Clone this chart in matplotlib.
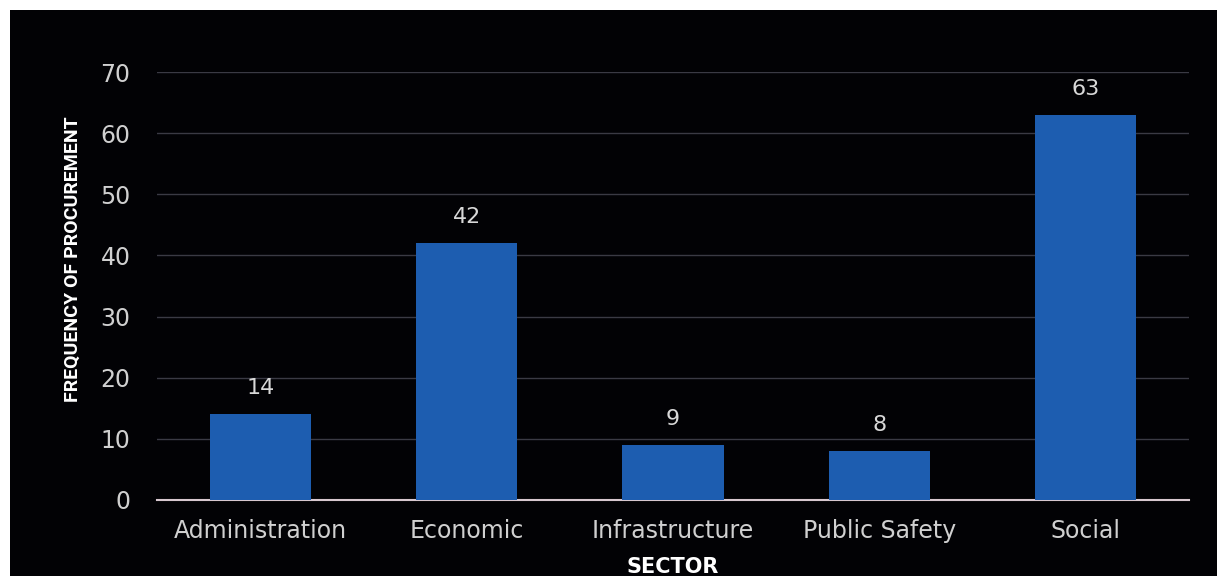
import matplotlib.pyplot as plt
from matplotlib.patches import Rectangle

sectors = ["Administration", "Economic", "Infrastructure", "Public Safety", "Social"]
counts = [14, 42, 9, 8, 63]
yticks = [0, 10, 20, 30, 40, 50, 60, 70]

plt.rcParams['font.family'] = ['DejaVu Sans']

fig = plt.figure(figsize=(12.17, 5.76), dpi=100, facecolor="#020205")
# thin white margin at top and left of the slide
fig.add_artist(Rectangle((0, 0), 10 / 1217, 1, transform=fig.transFigure,
                         facecolor="white", edgecolor="none", zorder=-10))
fig.add_artist(Rectangle((0, 566 / 576), 1, 10 / 576, transform=fig.transFigure,
                         facecolor="white", edgecolor="none", zorder=-10))

ax = fig.add_axes([0.129, 0.132, 0.848, 0.743])
ax.set_facecolor("none")

x = range(len(sectors))
ax.bar(x, counts, width=0.49, color="#1d5db0", zorder=3)
for i, v in zip(x, counts):
    ax.text(i, v + 2.6, str(v), ha="center", va="bottom", color="#d8d8d8", fontsize=16)

ax.set_ylim(0, 70)
ax.set_xlim(-0.5, len(sectors) - 0.5)
ax.set_yticks(yticks)
ax.yaxis.grid(True, color="#3a3a44", linewidth=1, zorder=0)
ax.tick_params(colors="#d0d0d0", labelsize=17, length=0)
ax.tick_params(axis="y", pad=19)
ax.tick_params(axis="x", pad=14)
for s in ["top", "right", "left"]:
    ax.spines[s].set_visible(False)
ax.spines["bottom"].set_color("#d8c8d0")
ax.spines["bottom"].set_linewidth(1.5)

ax.set_xticks(list(x))
ax.set_xticklabels(sectors)
ax.set_ylabel("FREQUENCY OF PROCUREMENT", color="white", fontsize=14,
              fontweight="bold", family=["Roboto", "DejaVu Sans"])
ax.yaxis.set_label_coords(-0.073, 0.563)
ax.set_xlabel("SECTOR", color="white", fontsize=15, fontweight="bold", labelpad=10)

fig.savefig("out.png", dpi=100, facecolor=fig.get_facecolor())
